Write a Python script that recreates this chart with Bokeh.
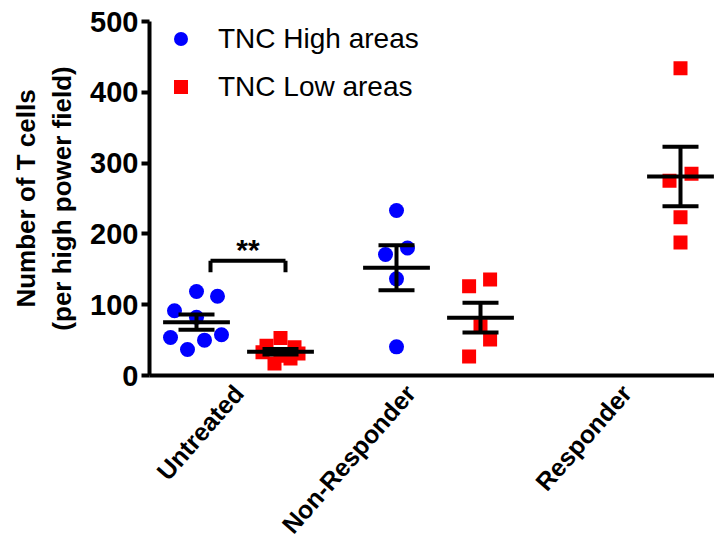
import math
import numpy as np
from bokeh.plotting import figure
from bokeh.models import FixedTicker, Legend, LegendItem, Label, ColumnDataSource
from bokeh.embed import file_html
from bokeh.resources import INLINE

# ---------------- data ----------------
groups = ["Untreated", "Non-Responder", "Responder"]
tnc_high = {
    "Untreated": [118.6, 112.0, 91.4, 82.3, 53.7, 36.7, 49.9, 57.5],
    "Non-Responder": [233.0, 171.0, 180.0, 136.5, 40.5],
    "Responder": [],
}
tnc_low = {
    "Untreated": [53, 42, 40, 33, 31, 28, 24, 17],
    "Non-Responder": [126.0, 135.5, 69.6, 50.8, 26.8],
    "Responder": [434.0, 275.0, 285.0, 223.5, 188.0],
}
y_ticks = [0, 100, 200, 300, 400, 500]
series_names = ["TNC High areas", "TNC Low areas"]

# ---------------- layout (not data) ----------------
offset = 0.21
label_pos = [1.0, 1.86, 2.94]   # where the rotated group labels end
spread_high = {
    "Untreated": [0.0, 0.105, -0.11, 0.0, -0.13, -0.045, 0.04, 0.125],
    "Non-Responder": [0.0, -0.055, 0.055, 0.0, 0.0],
    "Responder": [],
}
spread_low = {
    "Untreated": [0.0, -0.07, 0.07, -0.09, 0.09, 0.0, 0.05, -0.03],
    "Non-Responder": [-0.057, 0.048, 0.0, 0.048, -0.057],
    "Responder": [0.0, -0.055, 0.055, 0.0, 0.0],
}

FONT = "Liberation Sans"

p = figure(frame_width=565, frame_height=354, x_range=(0.555, 3.38), y_range=(0, 500),
           output_backend="svg", toolbar_location=None,
           min_border_left=149, min_border_top=21, min_border_right=0, min_border_bottom=0)
p.outline_line_color = None
p.xgrid.visible = False
p.ygrid.visible = False
p.background_fill_color = "white"

hx, hy, lx, ly = [], [], [], []
seg = {"x0": [], "x1": [], "y0": [], "y1": []}

def add_stats(xc, vals):
    if len(vals) == 0:
        return
    v = np.array(vals, dtype=float)
    m = v.mean()
    s = v.std(ddof=1) / math.sqrt(len(v))
    seg["x0"].append(xc - 0.167); seg["x1"].append(xc + 0.167); seg["y0"].append(m); seg["y1"].append(m)
    seg["x0"].append(xc); seg["x1"].append(xc); seg["y0"].append(m - s); seg["y1"].append(m + s)
    for yy in (m - s, m + s):
        seg["x0"].append(xc - 0.09); seg["x1"].append(xc + 0.09); seg["y0"].append(yy); seg["y1"].append(yy)

for i, g in enumerate(groups):
    c = i + 1
    for v, j in zip(tnc_high[g], spread_high[g]):
        hx.append(c - offset + j); hy.append(v)
    for v, j in zip(tnc_low[g], spread_low[g]):
        lx.append(c + offset + j); ly.append(v)

r_high = p.scatter(hx, hy, marker="circle", size=15, fill_color="#0000FF", line_color=None)
r_low = p.scatter(lx, ly, marker="square", size=14, fill_color="#FF0000", line_color=None)

for i, g in enumerate(groups):
    c = i + 1
    add_stats(c - offset, tnc_high[g])
    add_stats(c + offset, tnc_low[g])

p.segment(x0="x0", x1="x1", y0="y0", y1="y1", source=ColumnDataSource(seg),
          line_color="black", line_width=4)

# significance bracket between Untreated columns
bl, br = 1 - offset + 0.07, 1 + offset + 0.025
p.segment(x0=[bl, bl, br], x1=[br, bl, br], y0=[162, 162, 162], y1=[162, 146, 146],
          line_color="black", line_width=4)
p.add_layout(Label(x=(bl + br) / 2, y=178, text="**", text_align="center", text_baseline="alphabetic",
                   text_font=FONT, text_font_style="bold", text_font_size="30px", text_color="black"))

# axes
p.yaxis.ticker = FixedTicker(ticks=y_ticks)
p.yaxis.axis_line_width = 4
p.yaxis.major_tick_line_width = 4
p.yaxis.major_tick_out = 8
p.yaxis.major_tick_in = 0
p.yaxis.minor_tick_line_color = None
p.yaxis.major_label_text_font = FONT
p.yaxis.major_label_text_font_style = "bold"
p.yaxis.major_label_text_font_size = "29px"
p.yaxis.major_label_text_color = "black"
p.yaxis.major_label_standoff = 3
p.yaxis.axis_label = "Number of T cells\n(per high power field)"
p.yaxis.axis_label_text_font = FONT
p.yaxis.axis_label_text_font_style = "bold"
p.yaxis.axis_label_text_font_size = "26px"
p.yaxis.axis_label_text_color = "black"
p.yaxis.axis_label_standoff = 10

p.xaxis.ticker = FixedTicker(ticks=label_pos)
p.xaxis.major_label_overrides = {label_pos[i]: groups[i] for i in range(3)}
p.xaxis.major_label_orientation = 0.85
p.xaxis.axis_line_width = 4
p.xaxis.major_tick_line_color = None
p.xaxis.major_tick_out = 0
p.xaxis.major_tick_in = 0
p.xaxis.minor_tick_line_color = None
p.xaxis.major_label_text_font = FONT
p.xaxis.major_label_text_font_style = "bold"
p.xaxis.major_label_text_font_size = "25px"
p.xaxis.major_label_text_color = "black"
p.xaxis.major_label_standoff = 13

legend = Legend(items=[LegendItem(label=series_names[0], renderers=[r_high]),
                       LegendItem(label=series_names[1], renderers=[r_low])],
                location=(14, 271), orientation="vertical")
legend.glyph_width = 35
legend.glyph_height = 35
legend.label_height = 35
legend.spacing = 13
legend.padding = 0
legend.margin = 0
legend.label_standoff = 20
legend.border_line_color = None
legend.background_fill_alpha = 0
legend.label_text_font = FONT
legend.label_text_font_size = "28px"
legend.label_text_color = "black"
p.add_layout(legend)

open("out.html", "w").write(file_html(p, INLINE))
